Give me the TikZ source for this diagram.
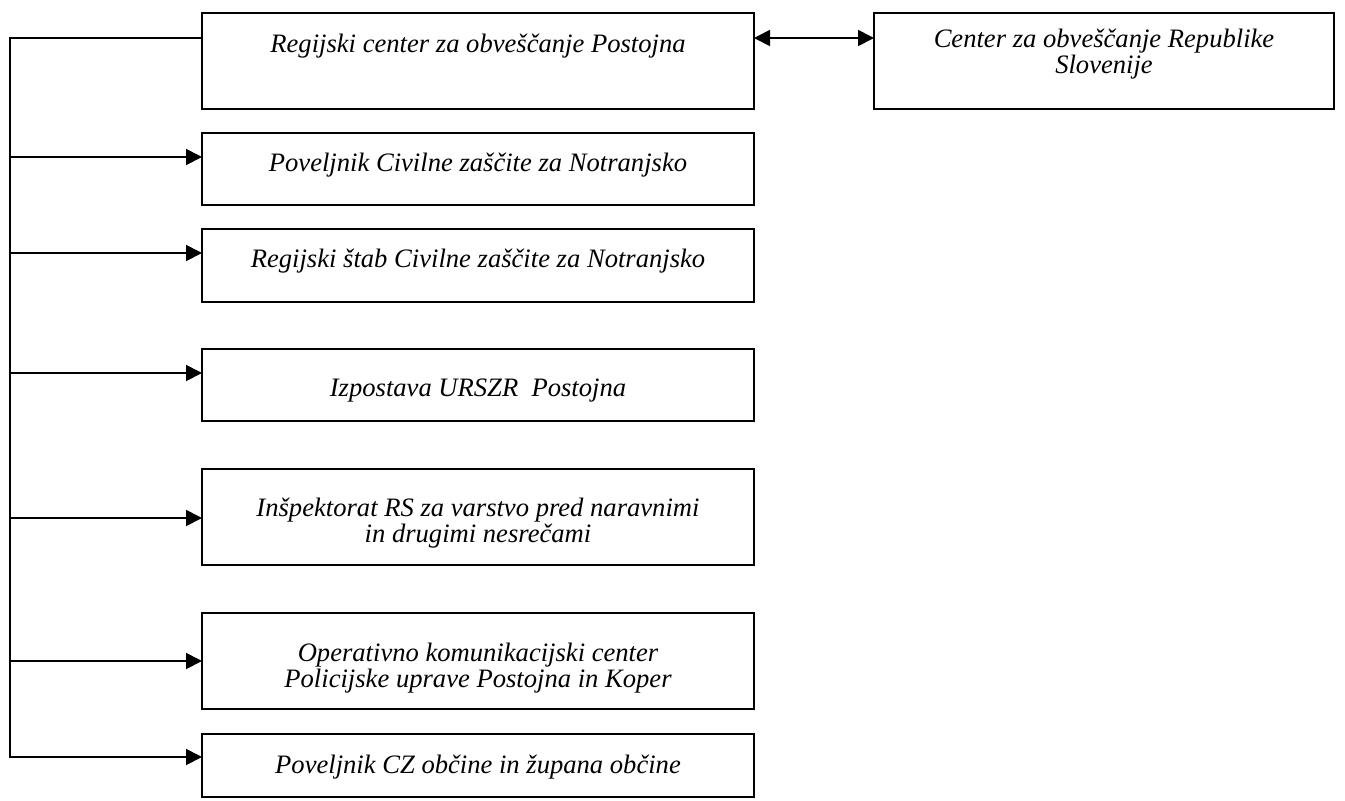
\documentclass[tikz,border=0pt]{standalone}
\usepackage{fontspec}
\setmainfont{Liberation Serif}
\usetikzlibrary{arrows.meta,calc}

\tikzset{
  box/.style={draw, line width=0.9pt, minimum width=276pt, inner sep=0pt, outer sep=0pt},
  txt/.style={align=center, font=\fontsize{13.3}{13}\selectfont\itshape, inner sep=0pt},
  arr/.style={line width=0.9pt, -{Triangle[length=8pt,width=8pt]}}
}

\begin{document}
\begin{tikzpicture}[x=0.5pt,y=-0.5pt]
\useasboundingbox (0,0) rectangle (1345,800);

% boxes
\node [box, minimum height=48pt] (center) at (478,61) {};
\node [box, minimum height=48pt, minimum width=230pt] (republika) at (1104,61) {};
\node [box, minimum height=36pt] (poveljnik) at (478,169) {};
\node [box, minimum height=36.5pt] (stab) at (478,265.5) {};
\node [box, minimum height=36pt] (izpostava) at (478,385) {};
\node [box, minimum height=48pt] (inspektorat) at (478,517) {};
\node [box, minimum height=48pt] (okc) at (478,661) {};
\node [box, minimum height=31.5pt] (obcina) at (478,765.5) {};

% texts
\node [txt] at (478,46) {Regijski center za obveščanje Postojna};
\node [txt] at (1104,54) {Center za obveščanje Republike\\Slovenije};
\node [txt] at (478,165) {Poveljnik Civilne zaščite za Notranjsko};
\node [txt] at (478,261) {Regijski štab Civilne zaščite za Notranjsko};
\node [txt] at (478,391) {Izpostava URSZR\ \ Postojna};
\node [txt] at (478,523) {Inšpektorat RS za varstvo pred naravnimi\\in drugimi nesrečami};
\node [txt] at (478,668) {Operativno komunikacijski center\\Policijske uprave Postojna in Koper};
\node [txt] at (478,767) {Poveljnik CZ občine in župana občine};

% connectors
\coordinate (top) at (10,38);
\coordinate (bottom) at (10,757);
\draw [line width=0.9pt, {Triangle[length=8pt,width=8pt]}-{Triangle[length=8pt,width=8pt]}]
  (center.east |- top) -- (republika.west |- top);
\draw [arr] (center.west |- top) -- (top) -- (bottom) -- (obcina.west |- bottom);
\foreach \n/\y in {poveljnik/157, stab/253, izpostava/373, inspektorat/518, okc/661}
  \draw [arr] (10,\y) -- (\n.west |- 0,\y);

\end{tikzpicture}
\end{document}
